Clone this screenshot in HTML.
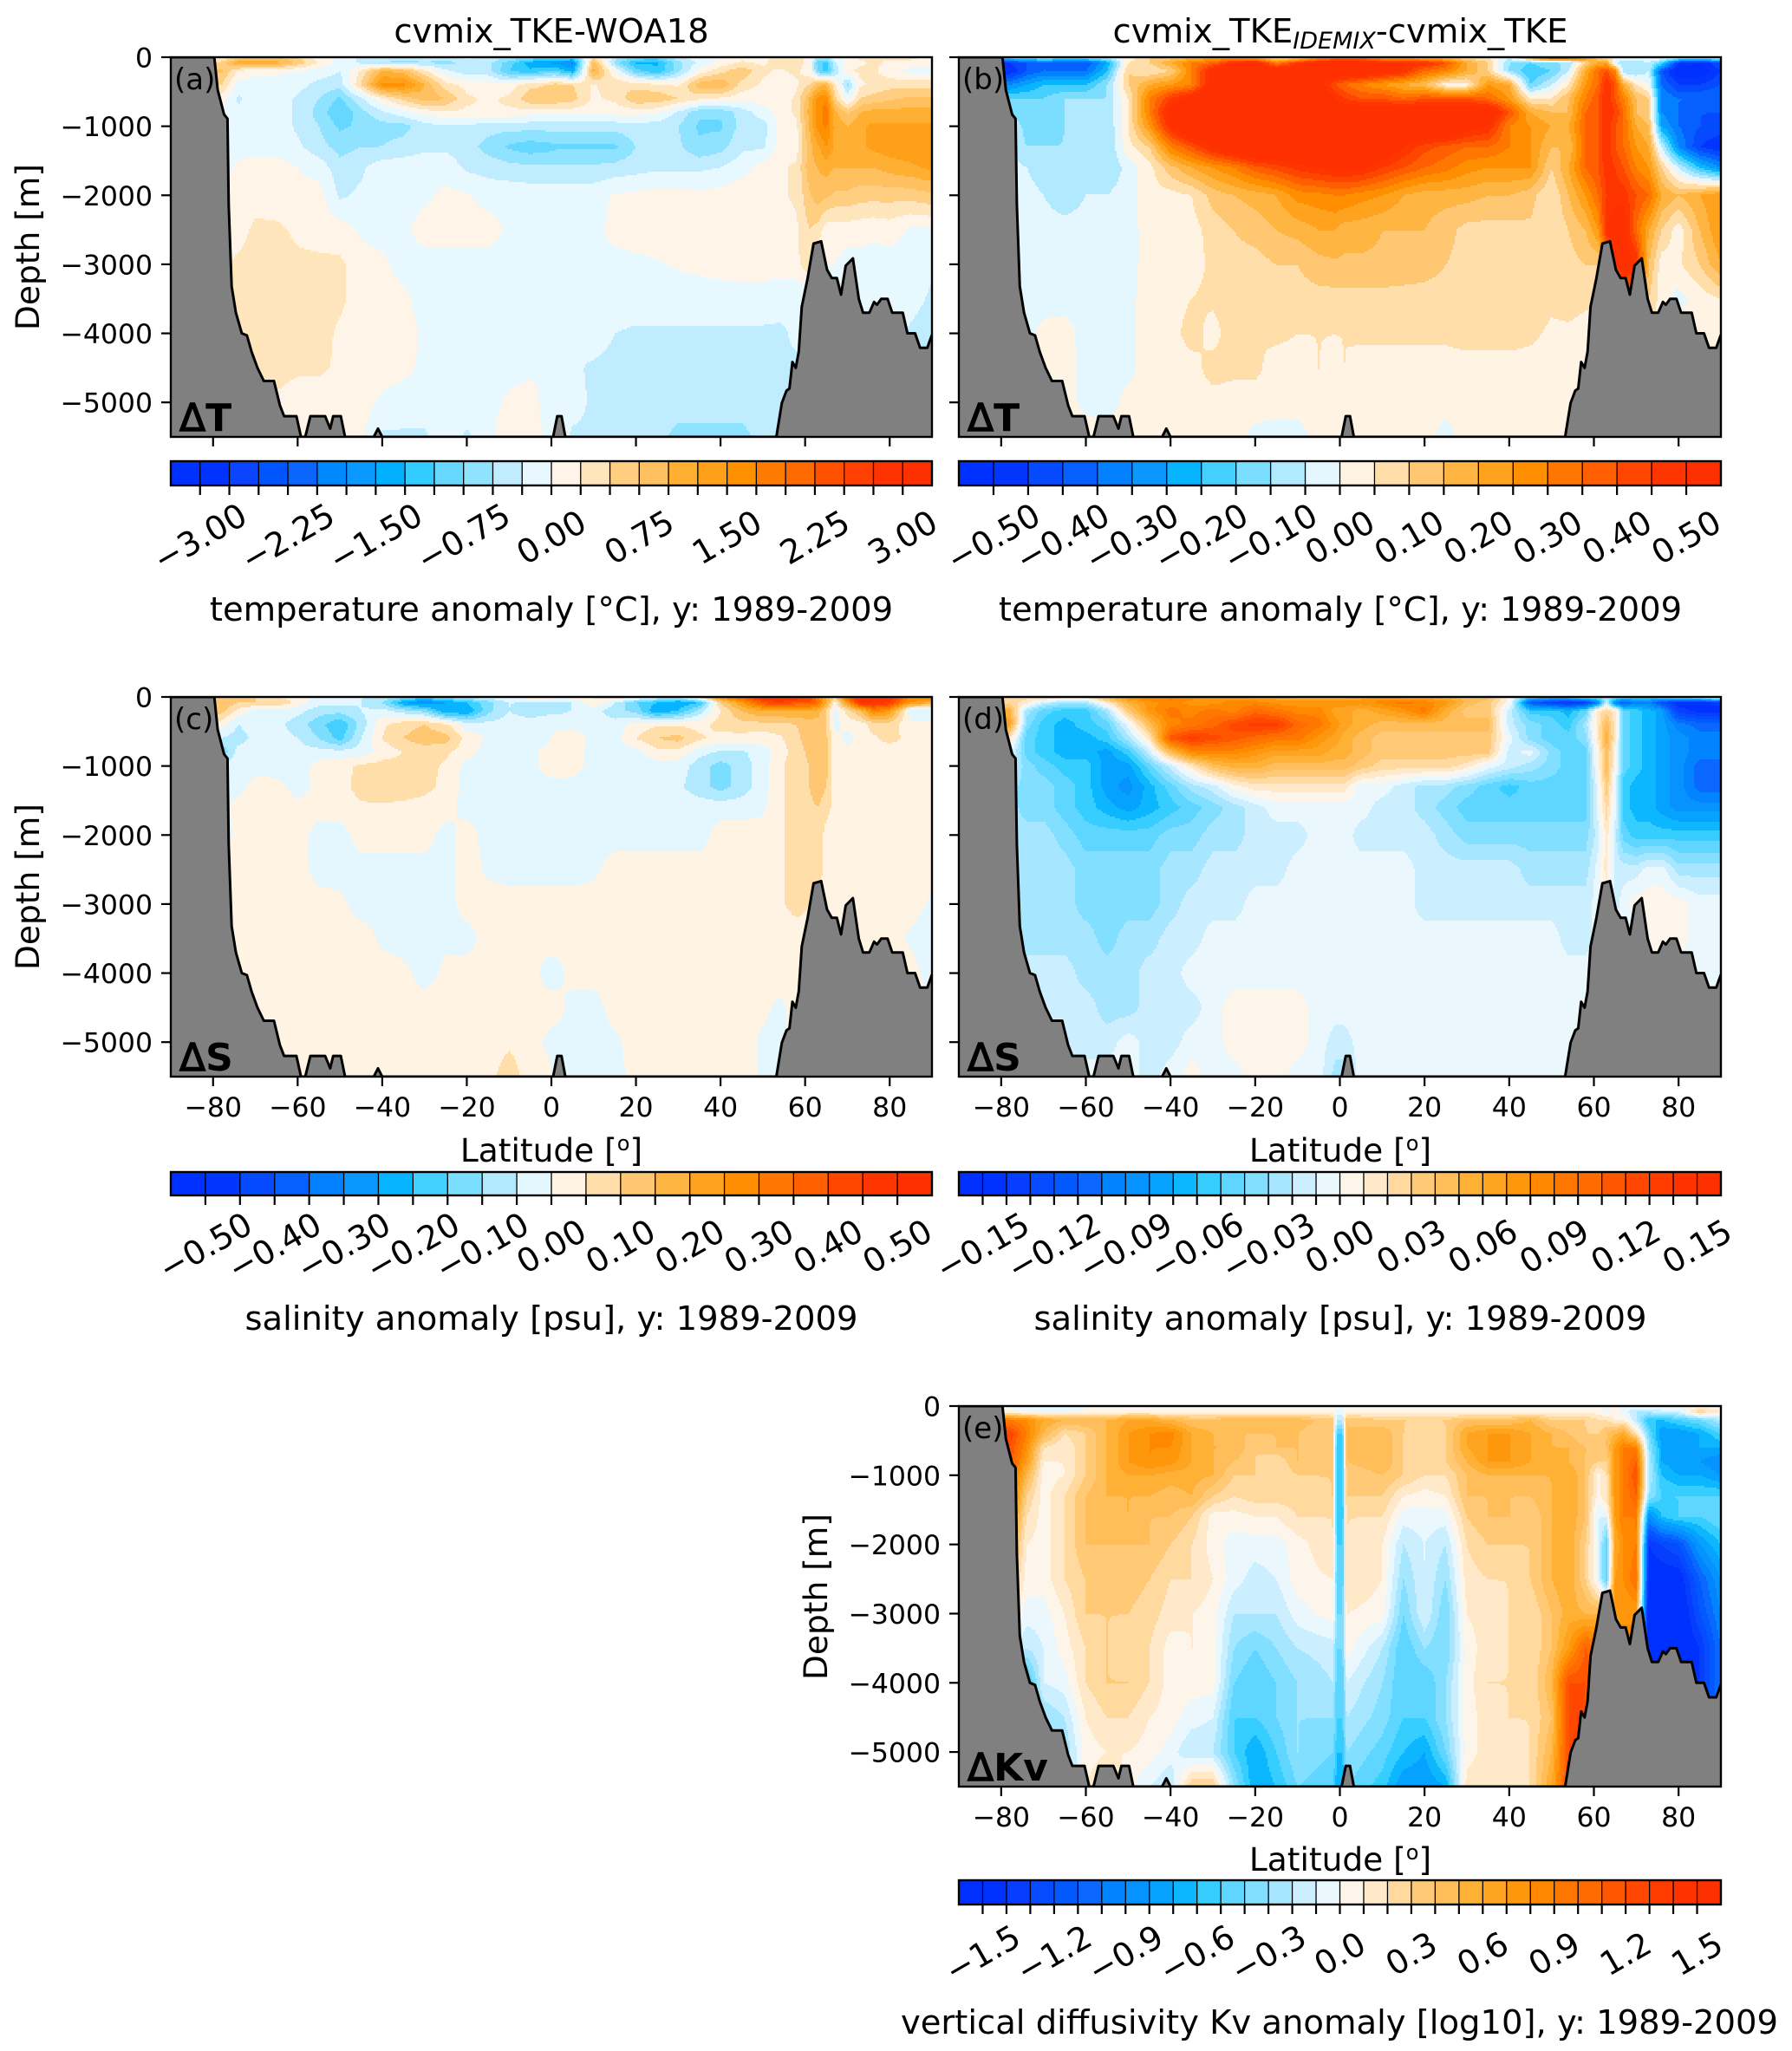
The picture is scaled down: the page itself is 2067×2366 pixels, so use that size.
<!DOCTYPE html>
<html>
<head>
<meta charset="utf-8">
<title>Ocean zonal mean anomalies</title>
<style>
html,body{margin:0;padding:0;background:#fff}
svg{display:block}
text{font-family:"DejaVu Sans","Liberation Sans",sans-serif;fill:#000}
.title{font-size:38.6px;text-anchor:middle}
.axlab{font-size:37.5px;text-anchor:middle}
.cblab{font-size:38.5px;text-anchor:middle}
.letter{font-size:34px}
.tag{font-size:44px;font-weight:bold}
.tag .d{font-weight:normal;stroke:#000;stroke-width:1.4px}
.tick{font-size:31.5px}
.cbtick{font-size:38px;text-anchor:middle}
</style>
</head>
<body>
<svg id="fig" xmlns="http://www.w3.org/2000/svg" width="2067" height="2366" viewBox="0 0 2067 2366">
  <rect x="0" y="0" width="2067" height="2366" fill="#fff"/>
  <g id="marks"></g>

  <text class="title" x="636" y="49">cvmix_TKE-WOA18</text>
  <text class="title" x="1546" y="49">cvmix_TKE<tspan font-size="27" font-style="italic" dy="7">IDEMIX</tspan><tspan dy="-7">-cvmix_TKE</tspan></text>

  <text class="axlab" transform="translate(45 285) rotate(-90)">Depth [m]</text>
  <text class="axlab" transform="translate(45 1023) rotate(-90)">Depth [m]</text>
  <text class="axlab" transform="translate(954 1842) rotate(-90)">Depth [m]</text>

  <text class="axlab" x="636" y="1340">Latitude [<tspan font-size="24" dy="-13">o</tspan><tspan dy="13">]</tspan></text>
  <text class="axlab" x="1546" y="1340">Latitude [<tspan font-size="24" dy="-13">o</tspan><tspan dy="13">]</tspan></text>
  <text class="axlab" x="1546" y="2158">Latitude [<tspan font-size="24" dy="-13">o</tspan><tspan dy="13">]</tspan></text>

  <text class="cblab" x="636" y="716">temperature anomaly [°C], y: 1989-2009</text>
  <text class="cblab" x="1546" y="716">temperature anomaly [°C], y: 1989-2009</text>
  <text class="cblab" x="636" y="1534">salinity anomaly [psu], y: 1989-2009</text>
  <text class="cblab" x="1546" y="1534">salinity anomaly [psu], y: 1989-2009</text>
  <text class="cblab" x="1545" y="2346">vertical diffusivity Kv anomaly [log10], y: 1989-2009</text>

  <g id="annotations">
    <text class="letter" x="201" y="103">(a)</text>
    <text class="letter" x="1110" y="103">(b)</text>
    <text class="letter" x="201" y="841">(c)</text>
    <text class="letter" x="1110" y="841">(d)</text>
    <text class="letter" x="1110" y="1659">(e)</text>
    <text class="tag" x="207" y="497"><tspan class="d">Δ</tspan>T</text>
    <text class="tag" x="1116" y="497"><tspan class="d">Δ</tspan>T</text>
    <text class="tag" x="207" y="1235"><tspan class="d">Δ</tspan>S</text>
    <text class="tag" x="1116" y="1235"><tspan class="d">Δ</tspan>S</text>
    <text class="tag" x="1116" y="2054"><tspan class="d">Δ</tspan>Kv</text>
  </g>
</svg>

<script>
// ---- grid axes of the gridded anomaly fields ----
const lats = [-78,-74,-70,-65,-60,  -55,-50,-45,-40,-35,  -30,-25,-20,-15,-10,  -5,-1,1,5,10,  15,20,25,30,35,  40,45,50,54,58,  61,63,65,67,70,  73,76,80,85,90];
const kvLats = [-78,-74,-70,-65,-60,  -55,-50,-45,-40,-35,  -30,-25,-20,-15,-10,  -1.6,-.6,.6,1.6,10,  15,20,25,30,35,  40,45,50,54,58,  61,63,65,67,70,  73,76,80,85,90];
const depths = [0,80,200,400,600,800,1000,1300,1600,2000,2500,3000,3500,4000,4500,5000,5500];

// ---- (a) temperature, cvmix_TKE minus WOA18 [degC] ----
const tempWoa = [
[.1,.6,.8,.8,.5, .1,-.1,-.3,-.3,-.4, -.4,-.4,-.2,-.3,-.4, -.6,-.8,-.8,-.8,.3, -.3,-.7,-.8,-.3,-.1, -.1,.1,.2,.3,.3, .2,-.4,-.4,-.1,.1, .3,.3,.3,.3,.2],
[.6,1.2,1.1,1.1,.7, .2,-.1,-.3,-.5,-.6, -.5,-.6,-.4,-.4,-.9, -1.4,-1.5,-1.6,-1.8,.9, -.6,-1.3,-1.3,-.6,-.2, .1,.3,.2,.4,.4, .1,-.9,-1.1,-.3,.1, .2,.3,.2,.2,.1],
[.8,.2,.05,.05,0, -.1,-.25,.3,1,.9, .3,-.2,-.4,-.4,-1, -1.2,-1,-1,-1.4,1.1, 0,-.9,-1.2,-.6,.1, .4,.7,.3,.2,.3, .1,-.8,-1.1,-.5,.2, .3,.3,.1,-.1,-.1],
[.5,-.1,-.1,-.1,-.15, -.35,-.4,.5,1.6,1.6, 1,.35,.15,.1,.1, .4,.5,.6,.5,.2, .5,.4,.3,.2,.9, 1,.4,.2,.15,.2, .5,.9,1,.3,-.6, .2,.3,.4,.4,.4],
[.1,-.3,-.1,-.1,-.3, -.5,-.8,-.3,.2,.6, .9,.75,.3,.2,.3, .7,.7,.7,.6,.2, .3,.7,.7,.5,.3, .2,.1,.1,.1,.3, 1,1.6,1.7,.6,-.1, .5,.6,.7,.8,.8],
[0,-.2,-.05,-.1,-.3, -.6,-1,-.6,-.3,-.1, .1,.2,.2,.25,.2, .1,.1,.1,.1,.1, .1,.1,.05,-.3,-.7, -.7,-.4,-.1,.1,.3, 1.1,1.6,1.9,1.1,.7, 1,1.1,1.1,1.1,1.1],
[-.1,-.1,-.1,-.1,-.3, -.5,-.8,-.7,-.6,-.6, -.35,-.3,-.3,-.4,-.4, -.4,-.4,-.4,-.4,-.4, -.4,-.35,-.4,-.5,-.8, -.8,-.4,-.4,.1,.2, 1,1.6,1.8,1.2,1, 1.2,1.3,1.3,1.3,1.3],
[-.1,-.1,-.1,-.1,-.2, -.4,-.6,-.5,-.5,-.4, -.3,-.3,-.4,-.6,-.8, -.9,-.85,-.8,-.8,-.8, -.8,-.5,-.4,-.45,-.7, -.6,-.3,-.3,.1,.15, .9,1.2,1.5,1.2,1.1, 1.2,1.3,1.4,1.4,1.4],
[-.1,.05,.1,.1,0, -.1,-.4,-.3,-.1,-.1, -.1,-.1,-.3,-.35,-.4, -.45,-.45,-.45,-.45,-.45, -.4,-.35,-.3,-.3,-.3, -.25,-.1,.1,.2,.3, .9,1,1.1,1,1, 1,1,1.1,1.2,1.3],
[.05,.1,.15,.1,.05, .1,-.3,-.2,-.1,-.1, -.05,.05,.02,-.1,-.1, -.1,-.1,-.1,-.1,-.1, .02,.05,.1,.1,.05, .1,.15,.2,.2,.3, .7,.9,.8,.7,.7, .6,.6,.6,.6,.7],
[.1,.15,.3,.3,.2, .15,.1,-.05,-.1,-.05, .1,.1,.1,.1,-.05, -.1,-.1,-.1,-.1,-.1, .1,.1,.1,.1,.1, .1,.1,.1,.1,.2, .5,.4,.1,.1,.1, .1,.05,.1,-.05,-.05],
[.2,.3,.35,.35,.3, .3,.3,.1,.05,-.1, -.1,-.1,-.1,-.1,-.1, -.1,-.1,-.1,-.1,-.1, -.1,-.05,-.02,.02,.05, .08,.1,.1,.1,.2, .4,0,0,0,-.1, -.1,-.1,-.1,-.1,-.2],
[.2,.3,.35,.35,.35, .35,.3,.12,.1,.05, -.1,-.1,-.1,-.1,-.1, -.1,-.1,-.1,-.1,-.1, -.1,-.1,-.1,-.1,-.1, -.1,-.1,-.1,-.15,-.25, -.1,-.1,-.1,-.1,-.1, -.1,-.1,-.1,-.15,-.3],
[.2,.3,.35,.3,.35, .35,.2,.12,.1,.1, -.05,-.1,-.1,-.1,-.1, -.1,-.1,-.1,-.2,-.1, -.25,-.3,-.3,-.3,-.3, -.3,-.3,-.3,-.3,-.2, -.1,-.1,-.1,-.1,-.1, -.1,-.1,-.1,-.3,-.4],
[.2,.2,.3,.35,.3, .3,.2,.1,.1,.05, -.05,-.1,-.1,-.1,-.1, -.05,-.05,-.1,-.2,-.3, -.35,-.35,-.35,-.35,-.35, -.35,-.35,-.35,-.3,-.3, -.3,-.3,-.3,-.3,-.3, -.3,-.3,-.3,-.3,-.3],
[.1,.1,.1,.2,.1, .1,.1,.1,-.05,-.1, -.1,-.1,-.1,-.1,.05, .1,-.1,-.1,-.15,-.3, -.35,-.35,-.35,-.35,-.35, -.35,-.35,-.35,-.3,-.3, -.3,-.3,-.3,-.3,-.3, -.3,-.3,-.3,-.3,-.3],
[.1,.1,.1,.1,.1, .1,.1,.05,-.3,-.3, -.3,-.1,-.3,-.1,.2, .2,-.1,-.1,-.3,-.3, -.4,-.4,-.4,-.6,-.6, -.6,-.6,-.4,-.4,-.3, -.3,-.3,-.3,-.3,-.3, -.3,-.3,-.3,-.3,-.3]
];

// ---- (b) temperature, IDEMIX minus TKE [degC] ----
const tempIdemix = [
[-.1,-.05,-.05,-.05,-.05, -.02,.02,.1,.1,.15, .2,.2,.15,.02,.05, .2,.25,.3,.3,.2, .2,.1,.1,.05,.05, -.05,.3,.5,.5,.3, .1,.05,.05,.05,.05, .02,.02,.02,.02,.02],
[-.45,-.4,-.35,-.4,-.4, -.25,.05,.1,.2,.3, .35,.5,.55,.3,.45, .55,.6,.6,.55,.5, .5,.5,.4,.2,.1, -.1,-.15,-.1,-.1,.1, .2,.2,-.05,-.1,-.1, -.05,-.15,-.45,-.5,-.4],
[-.5,-.4,-.35,-.35,-.35, -.2,.1,.05,.1,.3, .55,.6,.6,.6,.6, .6,.6,.6,.6,.55, .5,.35,.3,.2,.1, -.1,-.2,-.15,-.05,.2, .35,.4,.3,-.1,-.1, -.05,-.4,-.55,-.55,-.45],
[-.3,-.25,-.2,-.2,-.2, -.1,.1,.2,.25,.3, .55,.6,.6,.6,.6, .55,.4,.35,.3,.25, .2,.15,.02,.02,.25, .2,-.15,-.05,.05,.25, .35,.5,.4,.2,.05, 0,-.35,-.45,-.45,-.4],
[-.15,-.15,-.15,-.1,-.1, -.1,.05,.3,.45,.55, .6,.65,.65,.65,.65, .6,.5,.45,.4,.4, .35,.4,.4,.4,.35, .25,.05,.05,.15,.3, .4,.5,.4,.3,.15, .1,-.3,-.35,-.35,-.35],
[-.1,-.15,-.15,-.1,-.1, -.1,.05,.3,.55,.65, .65,.65,.65,.65,.65, .65,.6,.6,.6,.6, .6,.6,.6,.6,.6, .4,.2,.15,.15,.35, .4,.5,.45,.35,.15, .1,-.3,-.35,-.4,-.4],
[-.05,-.12,-.12,-.1,-.1, -.1,.05,.25,.5,.65, .65,.65,.65,.65,.65, .65,.65,.65,.65,.65, .65,.65,.65,.55,.5, .3,.25,.2,.2,.35, .4,.5,.4,.35,.2, .15,-.25,-.35,-.4,-.42],
[-.05,-.1,-.1,-.1,-.1, -.1,.03,.1,.3,.4, .52,.6,.65,.65,.65, .65,.65,.65,.65,.6, .5,.42,.38,.35,.35, .3,.25,.15,.15,.35, .4,.5,.4,.35,.25, .2,-.05,-.3,-.45,-.5],
[-.03,-.05,-.08,-.08,-.08, -.1,-.03,.03,.13,.2, .25,.3,.38,.42,.47, .5,.52,.52,.52,.45, .4,.35,.32,.27,.25, .25,.25,.1,.2,.35, .4,.48,.45,.4,.3, .25,.1,-.05,-.2,-.3],
[-.03,-.03,-.05,-.08,-.05, -.05,-.02,.03,.03,.05, .12,.15,.17,.2,.27, .28,.3,.3,.27,.25, .2,.17,.17,.17,.15, .15,.12,.05,.15,.25, .35,.45,.48,.48,.4, .35,.2,.15,.2,.25],
[-.03,-.03,-.03,-.03,-.03, -.03,-.02,.02,.03,.03, .07,.1,.12,.15,.17, .2,.2,.17,.17,.15, .15,.15,.12,.08,.08, .08,.09,.05,.1,.15, .25,.5,.55,.55,.35, .2,.1,.02,.15,.25],
[-.03,-.03,-.03,-.03,-.03, -.03,-.02,.02,.03,.03, .06,.08,.08,.1,.1, .13,.14,.14,.14,.14, .13,.12,.1,.08,.08, .08,.08,.06,.08,.1, .1,.2,.5,.55,.5, .15,.02,.04,.1,.2],
[-.03,-.03,-.03,-.03,-.03, -.03,-.02,.03,.03,.05, .06,.07,.06,.07,.08, .08,.08,.08,.08,.08, .08,.08,.08,.08,.08, .08,.08,.06,.07,.06, .05,.05,.05,.3,.3, .1,.02,-.02,.02,.05],
[-.03,-.03,.02,.03,-.03, -.03,-.02,.03,.03,.07, .03,.08,.05,.06,.05, .05,.05,.05,.06,.06, .06,.06,.06,.07,.07, .07,.06,.04,.04,.03, .03,.03,.03,.03,.03, .03,.03,.03,.03,.03],
[.03,.03,.03,.04,-.03, -.03,-.02,.03,.03,.03, .07,.06,.06,.03,.03, .05,.04,.05,.03,.03, .03,.03,.03,.03,.03, .03,.03,.03,.03,.03, .03,.03,.03,.03,.03, .03,.03,.03,.03,.03],
[.03,.03,.03,.03,-.02, -.03,.02,.03,.03,.03, .03,.03,.03,.03,.03, .03,.03,.03,.03,.03, .03,.03,.03,.03,.03, .03,.03,.03,.03,.03, .03,.03,.03,.03,.03, .03,.03,.03,.03,.03],
[.03,.03,.03,.03,.03, .03,.03,.03,.03,.03, .03,.03,-.02,-.03,-.03, .02,.03,.03,.03,.03, .03,.03,-.03,.03,.03, .03,.03,.03,.03,.03, .03,.03,.03,.03,.03, .03,.03,.03,.03,.03]
];

// ---- (c) salinity, cvmix_TKE minus WOA18 [psu] ----
const saltWoa = [
[.1,.1,.1,.05,.02, -.02,-.02,-.05,-.05,-.1, -.15,-.1,-.05,-.02,.02, .05,.05,.05,.05,.05, .1,.05,-.02,-.05,.1, .3,.4,.5,.5,.5, .45,.3,.2,.1,.4, .5,.5,.5,.3,.3],
[.15,.1,.1,.1,.03, -.03,-.03,-.05,-.1,-.25, -.3,-.25,-.2,-.12,-.05, -.05,-.05,-.07,-.05,.05, -.05,-.15,-.2,-.25,-.2, .1,.25,.4,.45,.4, .4,.35,.2,.02,.25, .5,.5,.45,.25,.2],
[.12,.03,-.02,-.02,-.03, -.08,-.08,-.05,-.03,-.08, -.12,-.25,-.25,-.12,-.05, -.08,-.06,-.06,-.05,-.03, -.08,-.12,-.25,-.2,-.08, .05,.15,.2,.2,.2, .2,.18,.1,-.02,.07, .15,.3,.25,-.05,-.05],
[.02,-.05,-.02,-.03,-.08, -.13,-.2,-.08,.04,.08, .1,.06,-.03,-.03,-.03, -.02,-.03,-.03,-.02,-.03, -.03,.02,.04,.04,.03, .07,.08,.08,.08,.1, .12,.12,.1,-.02,.02, .02,.07,.07,.02,.02],
[-.05,-.08,-.03,-.03,-.05, -.1,-.17,-.05,.05,.1, .13,.12,.03,-.01,-.02, -.02,-.02,.03,.03,-.02, -.02,.05,.1,.12,.06, .03,.03,.02,.04,.09, .12,.13,.11,.02,-.02, .02,.04,.07,.03,.02],
[-.15,-.02,-.02,-.03,-.03, -.03,-.03,-.03,.02,.05, .07,.06,.02,-.02,-.02, -.02,.02,.04,.02,-.02, -.02,-.02,.03,.03,-.03, -.06,-.06,-.02,.02,.08, .11,.14,.12,.02,.02, .02,.02,.02,.02,.02],
[-.02,-.02,-.02,-.03,-.03, .02,.03,.06,.07,.07, .07,.04,-.02,-.02,-.02, -.02,.02,.03,.02,-.02, -.02,-.02,-.02,-.02,-.08, -.12,-.08,-.02,.04,.08, .1,.14,.12,.02,.02, .02,.02,.02,.02,.02],
[-.02,-.02,.02,.02,-.03, .02,.03,.07,.09,.09, .07,.03,-.02,-.02,-.02, -.02,-.02,-.02,-.02,-.02, -.02,-.03,-.03,-.04,-.08, -.12,-.08,-.02,.04,.08, .1,.12,.1,.02,.02, .02,.02,.02,.02,.02],
[-.02,.02,.03,.03,.02, .02,.02,.04,.04,.03, .02,.02,-.02,-.02,-.02, -.02,-.02,-.02,-.02,-.02, -.02,-.02,-.02,-.02,-.02, -.02,-.02,-.01,.04,.08, .09,.1,.08,.02,.02, .02,.02,.02,.01,.02],
[-.02,.01,.02,.02,.02, -.02,-.02,.02,.02,.02, .02,-.02,.02,-.02,-.02, -.02,-.02,-.02,-.02,-.02, -.02,-.02,-.02,-.02,-.02, .02,.02,.02,.04,.08, .09,.1,.02,.02,.02, .02,.02,.02,.02,.02],
[.02,.02,.02,.02,.02, -.02,-.02,-.02,-.02,-.02, -.02,-.02,.02,-.01,-.02, -.02,-.02,-.02,-.02,-.01, .02,.02,.02,.02,.02, .02,.02,.02,.04,.07, .09,.09,.02,.02,.02, .02,.02,.02,.02,.02],
[.02,.02,.02,.02,.02, .02,.01,-.02,-.02,-.02, -.02,-.02,.02,.02,.02, .02,.02,.02,.02,.02, .02,.02,.02,.02,.02, .02,.02,.02,.04,.07, .05,.02,.02,.02,.02, .02,.02,.02,.02,-.01],
[.02,.02,.02,.02,.02, .02,.02,.02,-.01,-.02, -.02,-.01,-.02,.02,.02, .02,.02,.02,.02,.02, .02,.02,.02,.02,.02, .02,.02,.02,.02,.02, .02,.02,.02,.02,.02, .02,.02,.02,-.01,-.03],
[.02,.02,.02,.02,.02, .02,.02,.02,.02,.01, -.02,.01,.02,.02,.02, .02,-.02,-.02,.02,.02, .02,.02,.02,.02,.02, .02,.02,.02,.02,.02, .02,.02,.02,.02,.02, .02,.02,.02,.02,-.03],
[.02,.02,.02,.02,.02, .02,.02,.02,.02,.02, .02,.02,.02,.02,.02, .02,.02,.02,-.02,-.02, .02,.02,.02,.02,.02, .02,.02,.01,-.01,.02, .02,.02,.02,.02,.02, .02,.02,.02,.02,.02],
[.02,.02,.02,.02,.02, .02,.02,.02,.02,.02, .02,.02,.02,.02,.04, .02,-.01,-.02,-.02,-.02, -.01,.02,.02,.02,.02, .02,.02,-.01,-.02,.02, .02,.02,.02,.02,.02, .02,.02,.02,.02,.02],
[.02,.02,.02,.02,.02, .02,.02,.02,.02,.02, .02,.02,.02,.03,.08, .02,.02,-.02,-.02,-.02, -.02,.02,.02,.02,.02, .02,.02,-.01,-.02,.02, .02,.02,.02,.02,.02, .02,.02,.02,.02,.02]
];

// ---- (d) salinity, IDEMIX minus TKE [psu] ----
const saltIdemix = [
[.02,.02,.03,.02,.02, .05,.08,.09,.09,.08, .07,.07,.06,.06,.05, .05,.05,.05,.06,.07, .06,.06,.05,.04,.04, 0,-.05,-.06,-.05,-.03, -.03,-.03,-.03,-.04,-.05, -.05,-.04,-.02,-.01,.02],
[.02,.01,-.02,-.03,-.03, .01,.05,.07,.08,.07, .07,.08,.08,.07,.07, .07,.07,.07,.07,.08, .09,.08,.07,.04,.03, 0,-.12,-.14,-.15,-.14, -.1,-.02,-.1,-.12,-.1, -.1,-.13,-.15,-.15,-.14],
[.05,-.03,-.05,-.06,-.06, -.03,.03,.07,.09,.08, .09,.08,.1,.09,.08, .08,.06,.06,.05,.06, .07,.09,.05,.03,.03, -.02,-.06,-.06,-.07,-.05, .01,.02,.01,-.05,-.06, -.07,-.08,-.14,-.15,-.15],
[.06,-.04,-.06,-.07,-.06, -.05,-.01,.04,.08,.09, .1,.12,.13,.13,.1, .09,.07,.06,.05,.04, .04,.04,.04,.04,.04, -.02,-.04,-.05,-.06,-.03, .01,.04,.01,-.05,-.06, -.07,-.08,-.1,-.11,-.11],
[.01,-.05,-.06,-.07,-.07, -.06,-.03,.01,.11,.13, .12,.11,.1,.09,.09, .07,.06,.05,.04,.03, .03,.03,.03,.03,.03, -.01,-.04,-.05,-.05,-.04, .01,.05,.01,-.05,-.06, -.07,-.08,-.09,-.1,-.1],
[-.01,-.05,-.06,-.07,-.07, -.08,-.06,-.02,.04,.08, .08,.08,.07,.06,.06, .06,.05,.05,.04,.03, .03,.03,.03,.03,.03, -.02,-.01,-.04,-.05,-.05, 0,.04,0,-.05,-.06, -.07,-.08,-.09,-.1,-.1],
[-.02,-.04,-.05,-.06,-.06, -.08,-.08,-.05,-.02,.01, .04,.05,.05,.04,.04, .04,.04,.04,.03,.02, .02,.02,.02,.01,-.01, -.02,-.03,-.04,-.05,-.05, 0,.04,0,-.05,-.06, -.07,-.08,-.09,-.11,-.11],
[-.03,-.04,-.04,-.05,-.06, -.08,-.09,-.07,-.05,-.03, -.02,0,.01,.01,.01, .01,.01,.01,-.01,-.01, -.02,-.03,-.03,-.04,-.05, -.06,-.05,-.05,-.05,-.05, -.01,.03,-.01,-.06,-.07, -.07,-.08,-.09,-.11,-.11],
[-.03,-.04,-.04,-.05,-.06, -.07,-.08,-.07,-.06,-.05, -.04,-.03,-.02,-.01,-.01, -.01,-.01,-.01,-.01,-.02, -.02,-.03,-.04,-.05,-.05, -.05,-.05,-.05,-.05,-.05, -.01,.02,-.01,-.06,-.07, -.07,-.08,-.09,-.09,-.09],
[-.03,-.03,-.03,-.04,-.05, -.05,-.05,-.05,-.04,-.04, -.03,-.03,-.02,-.02,-.02, -.01,-.01,-.01,-.02,-.02, -.02,-.02,-.03,-.04,-.04, -.04,-.04,-.04,-.04,-.04, -.02,.01,-.02,-.05,-.06, -.06,-.06,-.06,-.06,-.06],
[-.03,-.03,-.03,-.03,-.04, -.04,-.04,-.04,-.03,-.03, -.02,-.02,-.02,-.02,-.01, -.01,-.01,-.01,-.01,-.01, -.01,-.02,-.02,-.02,-.02, -.02,-.03,-.03,-.03,-.03, -.01,.01,-.02,-.02,-.02, -.01,-.01,-.03,-.03,-.03],
[-.03,-.03,-.03,-.03,-.04, -.04,-.04,-.04,-.03,-.02, -.02,-.02,-.01,-.01,-.01, -.01,-.01,-.01,-.01,-.01, -.01,-.02,-.02,-.02,-.02, -.02,-.02,-.02,-.02,-.02, -.01,0,-.02,-.01,0, 0,0,0,-.01,-.01],
[-.03,-.03,-.03,-.03,-.03, -.04,-.03,-.03,-.02,-.02, -.01,-.01,-.01,-.01,-.01, -.01,-.01,-.01,-.01,-.01, -.01,-.01,-.01,-.01,-.01, -.01,-.01,-.01,-.02,-.02, -.01,-.01,-.01,-.01,-.01, 0,0,0,-.01,-.01],
[-.02,-.02,-.02,-.02,-.03, -.03,-.03,-.02,-.02,-.01, -.01,-.01,-.01,-.01,-.01, -.01,-.01,-.01,-.01,-.01, -.01,-.01,-.01,-.01,-.01, -.01,-.01,-.01,-.01,-.01, -.01,-.01,-.01,-.01,-.01, -.01,-.01,-.01,-.01,-.01],
[-.02,-.02,-.02,-.02,-.02, -.03,-.03,-.02,-.02,-.02, -.01,0,0,0,0, -.01,-.01,-.01,-.01,-.01, -.01,-.01,-.01,-.01,-.01, -.01,-.01,-.01,-.01,-.01, -.01,-.01,-.01,-.01,-.01, -.01,-.01,-.01,-.01,-.01],
[-.02,-.02,-.02,-.02,-.02, -.02,-.01,-.02,-.02,-.01, -.01,0,0,0,0, -.01,-.02,-.02,-.01,-.01, -.01,-.01,-.01,-.01,-.01, -.01,-.01,-.01,-.01,-.01, -.01,-.01,-.01,-.01,-.01, -.01,-.01,-.01,-.01,-.01],
[-.01,-.01,-.01,-.01,-.01, -.01,-.01,-.02,-.01,0, -.01,-.01,0,0,-.01, -.01,-.03,-.03,-.01,-.01, -.01,-.01,-.01,-.01,-.01, -.01,-.01,-.01,-.01,-.01, -.01,-.01,-.01,-.01,-.01, -.01,-.01,-.01,-.01,-.01]
];

// ---- (e) vertical diffusivity, IDEMIX minus TKE [log10] ----
const kvIdemix = [
[0,0,0,0,0, 0,0,0,0,0, 0,0,0,0,0, 0,0,0,0,0, 0,0,0,0,0, 0,0,0,0,0, 0,0,0,0,0, 0,-.1,-.1,0,0],
[0,-.05,-.05,-.05,0, .05,.05,.05,.05,.05, .05,.05,.05,.05,.05, .05,-.05,-.05,.05,.05, .05,.05,.05,.05,.05, .05,.05,.05,.05,.05, .05,-.05,.05,-.05,-.2, -.2,-.1,-.1,.3,.1],
[.9,.8,.6,.5,.5, .5,.6,.6,.5,.4, .4,.5,.5,.5,.45, .35,-.2,-.2,.4,.3, .3,.3,.3,.4,.4, .4,.5,.3,.3,.3, .2,.2,.1,.1,-.2, -.6,-.6,-.5,-.4,-.2],
[1.3,.9,.5,.2,.3, .5,.7,.8,.85,.6, .5,.4,.4,.4,.4, .3,-.5,-.5,.4,.5, .3,.2,.3,.6,.7, .7,.6,.5,.4,.3, .3,.4,.5,.6,.2, -.4,-.8,-.8,-.7,-.5],
[1.2,.8,.2,.1,.3, .5,.7,.8,.8,.6, .5,.5,.3,.4,.4, .3,-.6,-.6,.4,.5, .3,.2,.3,.6,.7, .7,.6,.5,.5,.4, .4,.4,.7,.9,.9, -.3,-.7,-.8,-.7,-.7],
[1.2,.7,.1,.1,.3, .5,.7,.8,.75,.6, .5,.4,.3,.2,.4, .3,-.6,-.6,.4,.5, .3,.2,.3,.5,.7, .7,.6,.5,.5,.4, .3,.3,.7,.9,1.1, -.2,-.7,-.8,-.8,-.9],
[1.1,.5,.05,.1,.3, .5,.6,.6,.55,.55, .5,.3,.3,.2,.3, .3,-.6,-.6,.3,.4, .3,.2,.2,.4,.5, .5,.5,.5,.6,.4, .05,.2,.7,.9,1.2, -.2,-.6,-.7,-.7,-.8],
[1,.3,.05,.2,.4, .5,.5,.5,.45,.5, .3,.2,.25,.25,.25, .3,-.6,-.6,.3,.3, .1,.05,.1,.4,.4, .4,.4,.5,.6,.4, .05,.2,.7,.9,1.1, -.3,-.5,-.5,-.5,-.5],
[.8,.2,.05,.2,.4, .4,.5,.4,.4,.3, .05,.05,.1,.1,.2, .2,-.6,-.6,.2,.2, -.05,-.05,-.05,.3,.4, .4,.3,.5,.6,.4, -.1,-.1,.7,.9,.9, -.9,-.6,-.5,-.5,-.4],
[.6,.1,.05,.2,.4, .4,.4,.4,.3,.2, .05,-.05,-.05,-.05,.05, .2,-.5,-.5,.2,.1, -.2,-.1,-.2,.2,.3, .3,.3,.5,.6,.3, -.05,-.5,.6,.8,.9, -1.4,-1.3,-1.2,-.8,-.6],
[.4,.05,.05,.2,.3, .3,.35,.3,.2,.2, .1,-.05,-.15,-.1,.05, .1,-.5,-.5,.2,.1, -.3,-.1,-.3,.15,.2, .2,.3,.5,.6,.3, -.05,-.5,.7,.8,1, -1.5,-1.5,-1.5,-1.1,-.8],
[.2,-.05,-.05,.1,.3, .3,.3,.25,.15,.1, .05,-.2,-.2,-.2,-.05, .05,-.4,-.4,.1,.05, -.4,-.1,-.4,.1,.15, .2,.2,.4,.55,.5, .5,.6,.7,.7,.7, -1.6,-1.6,-1.6,-1.2,-.9],
[-.1,-.2,-.1,.05,.2, .3,.25,.2,.05,.1, .05,-.3,-.4,-.3,-.2, -.15,-.4,-.4,.05,-.2, -.5,-.3,-.4,.05,.15, .2,.2,.4,.7,1.1, 1,1,1,1,1, -1.6,-1.6,-1.6,-1.4,-1],
[-.5,-.6,-.1,-.05,.2, .3,.3,.2,.05,.05, .05,-.4,-.5,-.4,-.3, -.2,-.5,-.5,-.1,-.3, -.5,-.5,-.3,.05,.2, .2,.2,.5,1.2,1.2, 1,1,1,1,1, -1.6,-1.6,-1.6,-1.4,-1],
[-.5,-.5,-.3,-.2,.1, .2,.2,.1,.05,-.05, -.1,-.5,-.5,-.4,-.3, -.3,-.5,-.5,-.2,-.35, -.5,-.5,-.3,.05,.15, .2,.2,.4,1.2,1.2, 1,1,1,1,1, -1.6,-1.6,-1.6,-1.4,-1],
[-.4,-.4,-.5,-.3,.05, .1,.1,.05,-.05,-.2, -.2,-.5,-.7,-.5,-.3, -.4,-.6,-.6,-.3,-.45, -.6,-.7,-.4,.05,.15, .15,.2,.5,1.2,1.2, 1,1,1,1,1, -1.6,-1.6,-1.6,-1.4,-1],
[-.4,-.4,-.5,-.3,.1, .2,.05,-.1,-.2,.3, .3,-.3,-.7,-.6,-.4, -.5,-.7,-.7,-.4,-.55, -.8,-.8,-.7,.15,.15, .15,.2,.6,1.2,1.2, 1,1,1,1,1, -1.6,-1.6,-1.6,-1.4,-1]
];

// ---- bathymetry (zonal maximum sea floor) ----
const bathyLats = [-90,-79.7,-78.9,-77.4,-76.6,-76.3,-75.6,-74.6,-73.2,-72,-70.9,-69.5,-68,-65.6,-64.2,-63.2,-60.3,-59.2,-58.2,-57,-53.5,-52.3,-51.6,-49.8,-48.8,-42,-41,-40,.4,1.4,2.4,3.3,53.2,54.5,55.6,56.3,57,57.8,58.5,59.2,60.6,62,63.8,65.2,66.3,67.5,68.5,69.6,71.3,72.7,73.7,75.2,76.3,77,78,79.5,80.6,83.1,84.2,86,87.2,88.9,90];
const bathyDepths = [0,0,474,830,890,2134,3320,3700,4000,4030,4267,4500,4690,4690,5040,5200,5200,5500,5500,5200,5200,5380,5200,5200,5500,5500,5380,5500,5500,5200,5200,5500,5500,5010,4830,4800,4415,4500,4267,3615,3200,2700,2667,3080,3200,3200,3440,3020,2915,3500,3700,3700,3545,3585,3500,3500,3700,3700,4000,4000,4210,4210,4020];

// ---- tick labels ----
const latTicks = [-80,-60,-40,-20,0,20,40,60,80];
const depthTicks = [0,-1000,-2000,-3000,-4000,-5000];
const ticksTempWoa = ['-3.00','-2.25','-1.50','-0.75','0.00','0.75','1.50','2.25','3.00'];
const ticksTempIdemix = ['-0.50','-0.40','-0.30','-0.20','-0.10','0.00','0.10','0.20','0.30','0.40','0.50'];
const ticksSaltWoa = ['-0.50','-0.40','-0.30','-0.20','-0.10','0.00','0.10','0.20','0.30','0.40','0.50'];
const ticksSaltIdemix = ['-0.15','-0.12','-0.09','-0.06','-0.03','0.00','0.03','0.06','0.09','0.12','0.15'];
const ticksKv = ['-1.5','-1.2','-0.9','-0.6','-0.3','0.0','0.3','0.6','0.9','1.2','1.5'];

// ---- drawing ----
const NS = 'http://www.w3.org/2000/svg';
const root = document.getElementById('marks');
const paletteStops = ['#0030ff','#0033ff','#0a44ff','#0055ff','#0a66ff','#0088ff','#0a99ff','#00b0ff','#33ccff','#66d8ff','#8fe3ff','#bfecff','#e8f8ff','#fff4e8','#ffe5bb','#ffce80','#ffc060','#ffb033','#ffa01a','#ff9000','#ff7a00','#ff6a00','#ff5000','#ff4000','#ff3300','#ff3000'];

function hexRgb(h){return [1,3,5].map(function(i){return parseInt(h.substr(i,2),16);});}
function bandColor(i,n){
  const t = n>1 ? i/(n-1)*(paletteStops.length-1) : 0;
  const a = Math.floor(t), b = Math.min(a+1,paletteStops.length-1), f = t-a;
  const ca = hexRgb(paletteStops[a]), cb = hexRgb(paletteStops[b]);
  return 'rgb('+ca.map(function(v,k){return Math.round(v+(cb[k]-v)*f);}).join(',')+')';
}
function make(parent,tag,name,props){
  const el = document.createElementNS(NS,tag);
  
  
  for(const k in props){ el.setAttribute(k,props[k]); }
  parent.appendChild(el);
  return el;
}
function locate(arr,v){
  if(v<=arr[0]) return [0,0,0];
  const last = arr.length-1;
  if(v>=arr[last]) return [last,last,0];
  let i=0;
  while(arr[i+1]<v) i++;
  return [i,i+1,(v-arr[i])/(arr[i+1]-arr[i])];
}
function sample(field,grid,lat,depth){
  const a = locate(grid,lat), b = locate(depths,depth);
  const r0 = field[b[0]], r1 = field[b[1]];
  const v0 = r0[a[0]]+(r0[a[1]]-r0[a[0]])*a[2];
  const v1 = r1[a[0]]+(r1[a[1]]-r1[a[0]])*a[2];
  return v0+(v1-v0)*b[2];
}
function drawPanel(cfg){
  const g = make(root,'g','panel-'+cfg.id,{});
  const xOf = function(lat){return cfg.x0+(lat+90)/180*cfg.w;};
  const yOf = function(d){return cfg.y0+d/5500*cfg.h;};
  const n = cfg.bands, vmin = -n/2*cfg.step;
  const RES = 2;
  const grid = cfg.grid || lats;
  const shift = cfg.shift || 0;

  // filled contour bands, sampled from the gridded field
  const runs = [];
  for(let i=0;i<n;i++) runs.push([]);
  const cols = Math.ceil(cfg.w/RES);
  for(let py=0;py<cfg.h;py+=RES){
    const depth = (py+RES/2)/cfg.h*5500;
    let start=0, cur=-1;
    for(let c=0;c<=cols;c++){
      const px = c*RES;
      let b=-2;
      if(c<cols){
        const lat = (px+RES/2)/cfg.w*180-90;
        const v = sample(cfg.field,grid,lat,depth)+shift;
        b = Math.max(0,Math.min(n-1,Math.floor((v-vmin)/cfg.step+0.01)));
      }
      if(b!==cur){
        if(cur>=0){ runs[cur].push('M'+(cfg.x0+start)+' '+(cfg.y0+py)+'h'+(px-start)+'v'+RES+'h-'+(px-start)+'z'); }
        start=px; cur=b;
      }
    }
  }
  const clipId = 'clip-'+cfg.id;
  const defs = make(g,'defs','panel-clip-defs',{});
  const clip = make(defs,'clipPath','panel-clip',{id:clipId});
  make(clip,'rect','panel-clip-rect',{x:cfg.x0,y:cfg.y0,width:cfg.w,height:cfg.h});
  const bandsG = make(g,'g','contour-bands',{'clip-path':'url(#'+clipId+')','shape-rendering':'crispEdges'});
  for(let i=0;i<n;i++){
    if(!runs[i].length) continue;
    const band = make(bandsG,'path','contour-band',{d:runs[i].join(''),fill:bandColor(i,n)});
    
  }

  // bathymetry
  let land = '', edge = '';
  bathyLats.forEach(function(la,i){
    const s = xOf(la).toFixed(1)+' '+yOf(bathyDepths[i]).toFixed(1);
    land += (i?'L':'M')+s;
    edge += (i?'L':'M')+s;
  });
  land += 'L'+xOf(90)+' '+yOf(5500)+'L'+xOf(-90)+' '+yOf(5500)+'Z';
  const landG = make(g,'g','bathymetry',{'clip-path':'url(#'+clipId+')'});
  make(landG,'path','bathymetry-fill',{d:land,fill:'#808080'});
  make(landG,'path','bathymetry-outline',{d:edge,fill:'none',stroke:'#000','stroke-width':3,'stroke-linejoin':'round'});

  // axes frame
  make(g,'rect','axes-frame',{x:cfg.x0,y:cfg.y0,width:cfg.w,height:cfg.h,fill:'none',stroke:'#000','stroke-width':2.4});

  // x ticks
  latTicks.forEach(function(v){
    const x = xOf(v);
    make(g,'line','x-tick',{x1:x,x2:x,y1:cfg.y0+cfg.h,y2:cfg.y0+cfg.h+11,stroke:'#000','stroke-width':2.2});
    if(cfg.xLabels){
      const t = make(g,'text','x-tick-label',{x:x,y:cfg.y0+cfg.h+46,'class':'tick','text-anchor':'middle'});
      t.textContent = String(v).replace('-','\u2212');
    }
  });
  // y ticks
  depthTicks.forEach(function(v){
    const y = yOf(-v);
    make(g,'line','y-tick',{x1:cfg.x0-11,x2:cfg.x0,y1:y,y2:y,stroke:'#000','stroke-width':2.2});
    if(cfg.yLabels){
      const t = make(g,'text','y-tick-label',{x:cfg.x0-21,y:y+11.5,'class':'tick','text-anchor':'end'});
      t.textContent = String(v).replace('-','\u2212');
    }
  });

  // colorbar
  const cb = make(g,'g','colorbar',{});
  const cbX = function(v){return cfg.x0+(v-vmin)/(n*cfg.step)*cfg.w;};
  for(let i=0;i<n;i++){
    const xa = cbX(vmin+i*cfg.step), xb = cbX(vmin+(i+1)*cfg.step);
    make(cb,'rect','colorbar-cell',{x:xa,y:cfg.cbY,width:xb-xa+.5,height:cfg.cbH,fill:bandColor(i,n)});
  }
  for(let i=1;i<n;i++){
    const x = cbX(vmin+i*cfg.step);
    make(cb,'line','colorbar-divider',{x1:x,x2:x,y1:cfg.cbY,y2:cfg.cbY+cfg.cbH,stroke:'#000','stroke-width':1.3});
    make(cb,'line','colorbar-tick',{x1:x,x2:x,y1:cfg.cbY+cfg.cbH,y2:cfg.cbY+cfg.cbH+11,stroke:'#000','stroke-width':2.2});
  }
  make(cb,'rect','colorbar-frame',{x:cfg.x0,y:cfg.cbY,width:cfg.w,height:cfg.cbH,fill:'none',stroke:'#000','stroke-width':2.4});
  cfg.ticks.forEach(function(lab){
    const x = cbX(parseFloat(lab));
    const y = cfg.cbTextY;
    const t = make(cb,'text','colorbar-tick-label',{x:x,y:y,'class':'cbtick',transform:'rotate(-30 '+x+' '+(y-13)+')'});
    t.textContent = lab.replace('-','\u2212');
  });
}

drawPanel({id:'a',field:tempWoa,step:.25,bands:26,x0:197,y0:66,w:878,h:438,cbY:532,cbH:28,cbTextY:633,ticks:ticksTempWoa,xLabels:false,yLabels:true});
drawPanel({id:'b',field:tempIdemix,step:.05,bands:22,x0:1106,y0:66,w:879,h:438,cbY:532,cbH:28,cbTextY:633,ticks:ticksTempIdemix,xLabels:false,yLabels:false});
drawPanel({id:'c',field:saltWoa,step:.05,bands:22,x0:197,y0:804,w:878,h:438,cbY:1352,cbH:27,cbTextY:1451,ticks:ticksSaltWoa,xLabels:true,yLabels:true});
drawPanel({id:'d',field:saltIdemix,step:.01,bands:32,shift:.005,x0:1106,y0:804,w:879,h:438,cbY:1352,cbH:27,cbTextY:1451,ticks:ticksSaltIdemix,xLabels:true,yLabels:false});
drawPanel({id:'e',field:kvIdemix,grid:kvLats,step:.1,bands:32,x0:1106,y0:1622,w:879,h:439,cbY:2169,cbH:28,cbTextY:2267,ticks:ticksKv,xLabels:true,yLabels:true});
</script>
</body>
</html>
